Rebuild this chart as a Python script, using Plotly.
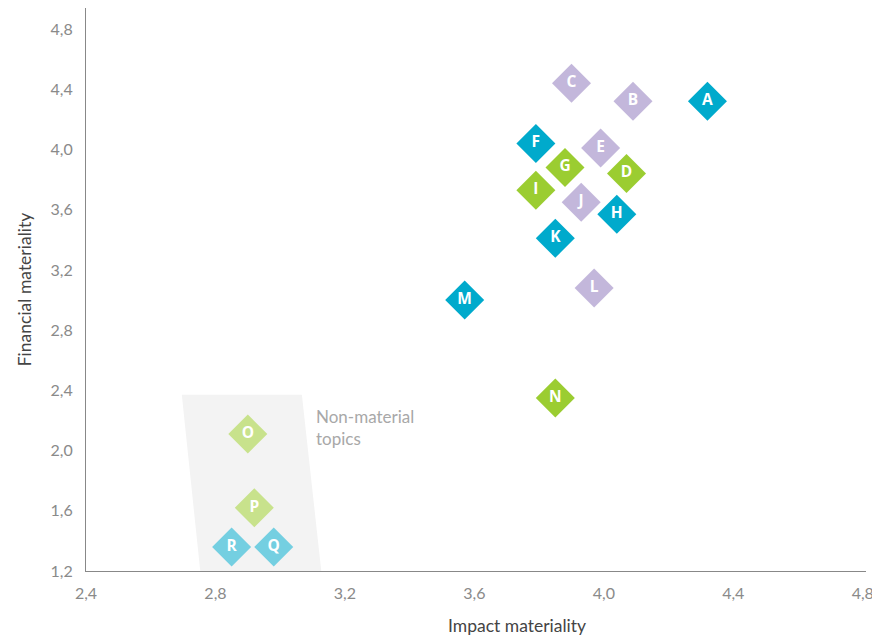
import plotly.graph_objects as go

# Topic positions on the materiality matrix
topics = ["A", "B", "C", "D", "E", "F", "G", "H", "I", "J", "K", "L", "M", "N", "O", "P", "Q", "R"]
impact = [4.32, 4.09, 3.90, 4.07, 3.99, 3.79, 3.88, 4.04, 3.79, 3.93, 3.85, 3.97, 3.57, 3.85, 2.90, 2.92, 2.98, 2.85]
financial = [4.32, 4.32, 4.44, 3.84, 4.01, 4.04, 3.88, 3.57, 3.73, 3.65, 3.41, 3.08, 3.00, 2.35, 2.11, 1.62, 1.36, 1.36]
groups = ["env", "soc", "soc", "gov", "soc", "env", "gov", "env", "gov", "soc", "env", "soc", "env", "gov",
          "gov_low", "gov_low", "env_low", "env_low"]

group_colors = {
    "env": "#00aacc",
    "soc": "#c3b7db",
    "gov": "#9bcd31",
    "gov_low": "#c8e28c",
    "env_low": "#74cfe1",
}

# Shaded area of non-material topics (x at top/bottom edges, y extent)
band_x = [2.696, 3.067, 3.127, 2.753]
band_y = [2.37, 2.37, 1.2, 1.2]

x_ticks = [2.4, 2.8, 3.2, 3.6, 4.0, 4.4, 4.8]
y_ticks = [1.2, 1.6, 2.0, 2.4, 2.8, 3.2, 3.6, 4.0, 4.4, 4.8]

fig = go.Figure()

fig.add_trace(go.Scatter(
    x=band_x + [band_x[0]], y=band_y + [band_y[0]],
    mode="lines", fill="toself", fillcolor="#f3f3f3",
    line=dict(width=0), hoverinfo="skip", showlegend=False,
))

fig.add_trace(go.Scatter(
    x=impact, y=financial, text=topics,
    mode="markers+text", textposition="middle center",
    marker=dict(symbol="diamond", size=30,
                color=[group_colors[g] for g in groups], line=dict(width=0)),
    textfont=dict(family="Open Sans", size=15.5, color="white", weight="bold"),
    cliponaxis=False, showlegend=False,
))

fig.add_annotation(
    x=3.105, y=2.15, xref="x", yref="y", xanchor="left", yanchor="middle",
    text="Non-material<br>topics", showarrow=False, align="left",
    font=dict(family="Lato", size=17, color="#a8a8a8"),
)

# Horizontal axis title, placed in pixel terms relative to the plotting area
plot_w = 872 - 86 - 6
plot_h = 635 - 8 - 64
fig.add_annotation(
    x=(517 - 86) / plot_w, xref="x domain", y=-(625 - 571) / plot_h, yref="y domain",
    xanchor="center", yanchor="middle", showarrow=False,
    text="Impact materiality", font=dict(family="Lato", size=17.5, color="#444444"),
)

axis_common = dict(
    showgrid=False, zeroline=False, showline=True, linecolor="#888888", linewidth=1,
    ticks="", tickfont=dict(family="Lato", size=16, color="#8a8a8a"),
    title_font=dict(family="Lato", size=17.5, color="#444444"),
    automargin=False, ticklabeloverflow="allow",
)

fig.update_xaxes(
    range=[2.4, 4.81], tickvals=x_ticks, ticktext=[f"{v:.1f}".replace(".", ",") for v in x_ticks],
    ticklabelstandoff=8, **axis_common,
)
fig.update_yaxes(
    range=[1.2, 4.94], tickvals=y_ticks, ticktext=[f"{v:.1f}".replace(".", ",") for v in y_ticks],
    title_text="Financial materiality", title_standoff=14, ticklabelstandoff=9, **axis_common,
)

fig.update_layout(
    width=872, height=635,
    margin=dict(l=86, r=6, t=8, b=64),
    plot_bgcolor="white", paper_bgcolor="white",
)

fig.write_html("out.html")
